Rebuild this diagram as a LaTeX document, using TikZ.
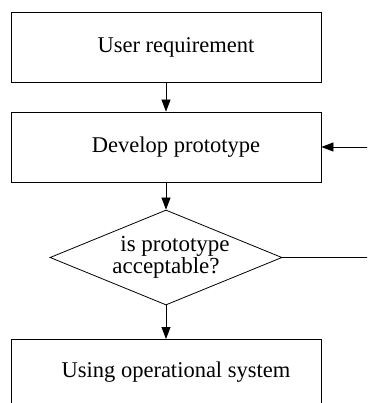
\documentclass[tikz,border=0pt]{standalone}
\usepackage{fontspec}
\setmainfont{Liberation Serif}
\usetikzlibrary{shapes.geometric,arrows.meta}
\tikzstyle{stage}=[draw, line width=0.8pt, minimum width=310pt, minimum height=70pt, inner sep=0pt, font=\fontsize{22.5}{26}\selectfont]
\tikzstyle{check}=[draw, diamond, aspect=2.44, line width=0.8pt, minimum width=232pt, minimum height=95pt, inner sep=0pt, font=\fontsize{23}{20}\selectfont]
\tikzstyle{flow}=[line width=0.8pt, -{Triangle[length=12pt,width=9pt]}]

\begin{document}
\begin{tikzpicture}[x=1pt, y=1pt]
				\useasboundingbox (0,0) rectangle (367,-403);
				\clip (0,0) rectangle (367,-403);
				\node[stage] (req) at (166,-47) {\hspace{20pt}User requirement};
				\node[stage] (dev) at (166,-147) {\hspace{20pt}Develop prototype};
				\node[check, align=center] (ok) at (166,-257.5) {\hspace{18pt}is prototype\\acceptable?\hspace{12pt}};
				\node[stage, minimum height=100pt, anchor=north] (use) at (166,-339) {};
				\node (usetext) at (176,-372) {\fontsize{22.5}{26}\selectfont Using operational system};
				\coordinate (back) at (370,-147);
				\coordinate (out) at (370,-257.5);
				\draw[flow] (req) -- (dev);
				\draw[flow] (dev) -- (ok);
				\draw[flow] (ok) -- (use);
				\draw[line width=0.8pt] (ok.east) -- (out);
				\draw[flow] (back) -- (dev.east);
			\end{tikzpicture}
\end{document}
